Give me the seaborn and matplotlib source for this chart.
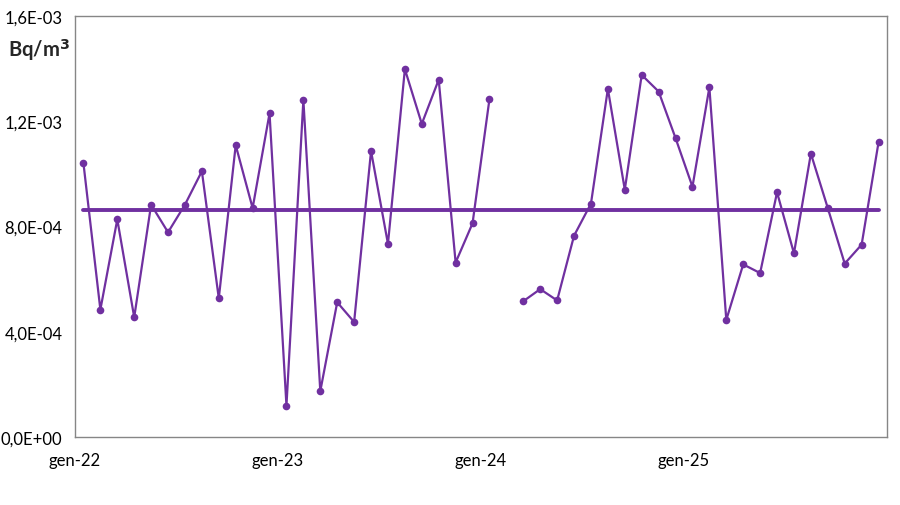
import numpy as np
import pandas as pd
import seaborn as sns
import matplotlib.pyplot as plt
from matplotlib.ticker import FuncFormatter

# monthly values, Jan 2022 .. Dec 2025 (Bq/m3), NaN = missing month
values_2022 = [1.04e-3, 4.84e-4, 8.27e-4, 4.55e-4, 8.83e-4, 7.78e-4,
               8.83e-4, 1.01e-3, 5.27e-4, 1.109e-3, 8.70e-4, 1.23e-3]
values_2023 = [1.19e-4, 1.281e-3, 1.74e-4, 5.12e-4, 4.37e-4, 1.087e-3,
               7.34e-4, 1.398e-3, 1.19e-3, 1.358e-3, 6.63e-4, 8.12e-4]
values_2024 = [1.284e-3, np.nan, 5.16e-4, 5.62e-4, 5.19e-4, 7.65e-4,
               8.87e-4, 1.323e-3, 9.40e-4, 1.376e-3, 1.313e-3, 1.136e-3]
values_2025 = [9.51e-4, 1.329e-3, 4.45e-4, 6.56e-4, 6.23e-4, 9.30e-4,
               6.98e-4, 1.077e-3, 8.70e-4, 6.59e-4, 7.31e-4, 1.12e-3]
mean_value = 8.62e-4

year_labels = ["gen-22", "gen-23", "gen-24", "gen-25", ""]

values = values_2022 + values_2023 + values_2024 + values_2025
df = pd.DataFrame({"month": np.arange(len(values)) + 0.5, "value": values})
# split into continuous segments so the line breaks at the missing month
df["segment"] = df["value"].isna().cumsum()
df = df.dropna()

sns.set_style("white")
plt.rcParams["font.family"] = ["Lato", "DejaVu Sans"]

purple = "#7030A0"
grey = "#868686"

fig = plt.figure(figsize=(9, 5.06), dpi=100)
ax = fig.add_axes([75 / 900, 1 - 438 / 506, 812 / 900, 421 / 506])

for _, seg in df.groupby("segment"):
    sns.lineplot(data=seg, x="month", y="value", ax=ax, color=purple,
                 linewidth=1.6, marker="o", markersize=5.5,
                 markeredgewidth=0, estimator=None)

mean_df = pd.DataFrame({"month": [df["month"].iloc[0], df["month"].iloc[-1]],
                        "value": [mean_value, mean_value]})
sns.lineplot(data=mean_df, x="month", y="value", ax=ax, color=purple,
             linewidth=2.8, estimator=None)

ax.set_xlim(0, 48)
ax.set_ylim(0, 1.6e-3)
ax.set_xticks(np.arange(0, 49, 12))
ax.set_xticklabels(year_labels)
ax.set_yticks(np.arange(0, 1.61e-3, 4e-4))
ax.yaxis.set_major_formatter(FuncFormatter(lambda v, p: f"{v:.1E}".replace(".", ",")))
ax.set_xlabel("")
ax.set_ylabel("")

for s in ax.spines.values():
    s.set_color(grey)
    s.set_linewidth(1)
ax.tick_params(axis="both", which="major", direction="out", length=5,
               color=grey, labelsize=12, labelcolor="black", pad=4)
ax.tick_params(axis="x", pad=6)

fig.text(8 / 900, 1 - 50 / 506, "Bq/m$^{\\mathbf{3}}$", fontsize=14.5,
         fontweight="bold", va="center", ha="left")

fig.savefig("out.png", dpi=100)
